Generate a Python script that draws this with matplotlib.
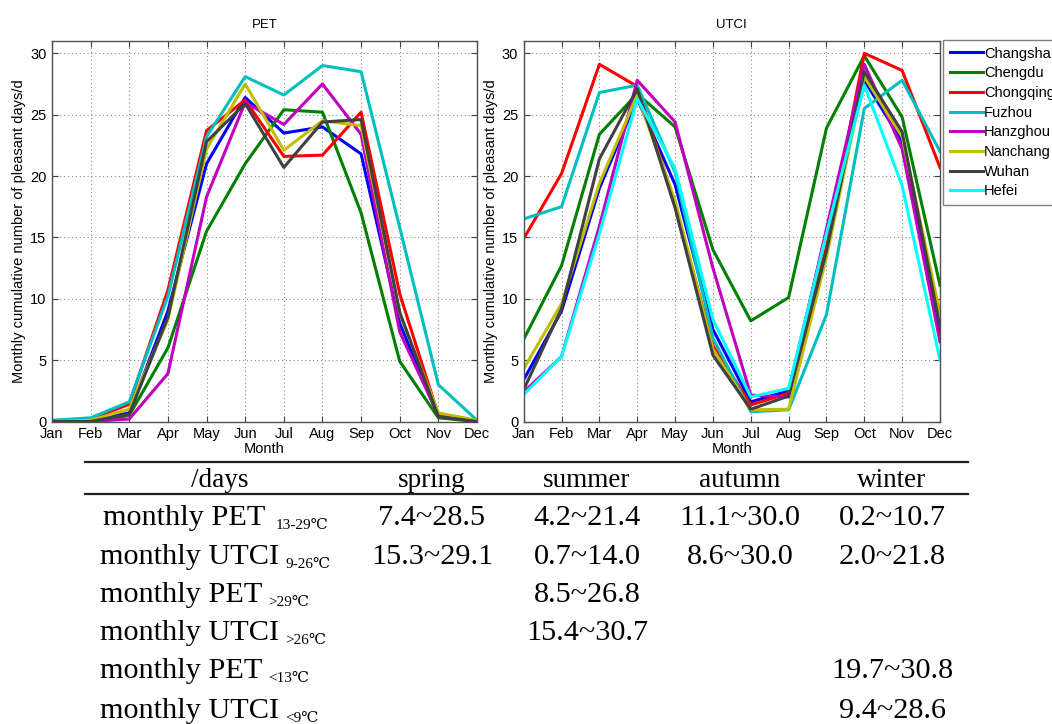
import matplotlib
matplotlib.use("Agg")
import matplotlib.pyplot as plt
from matplotlib.lines import Line2D

months = ['Jan', 'Feb', 'Mar', 'Apr', 'May', 'Jun',
          'Jul', 'Aug', 'Sep', 'Oct', 'Nov', 'Dec']
cities = ['Changsha', 'Chengdu', 'Chongqing', 'Fuzhou',
          'Hanzghou', 'Nanchang', 'Wuhan', 'Hefei']
city_colors = ['#0000FF', '#008000', '#FF0000', '#00BFBF',
               '#BF00BF', '#BFBF00', '#404040', '#00FFFF']

# Monthly cumulative pleasant days, PET 13-29 C range
pet_changsha = [0.0, 0.1, 0.7, 9.0, 21.0, 26.4, 23.5, 24.0, 21.8, 8.0, 0.4, 0.0]
pet_chengdu = [0.0, 0.0, 0.5, 6.0, 15.5, 21.0, 25.4, 25.2, 17.0, 4.9, 0.3, 0.0]
pet_chongqing = [0.0, 0.2, 1.4, 10.7, 23.7, 26.2, 21.6, 21.7, 25.2, 10.4, 0.5, 0.0]
pet_fuzhou = [0.1, 0.3, 1.6, 10.2, 23.2, 28.1, 26.6, 29.0, 28.5, 15.8, 3.0, 0.1]
pet_hanzghou = [0.0, 0.0, 0.2, 3.9, 18.3, 26.0, 24.2, 27.5, 23.4, 7.3, 0.5, 0.0]
pet_nanchang = [0.0, 0.1, 1.0, 8.3, 22.2, 27.5, 22.1, 24.5, 24.1, 8.8, 0.7, 0.1]
pet_wuhan = [0.0, 0.0, 0.6, 8.5, 22.8, 25.9, 20.7, 24.4, 24.6, 8.9, 0.4, 0.0]

# Monthly cumulative pleasant days, UTCI 9-26 C range
utci_changsha = [3.4, 9.0, 19.0, 26.3, 19.3, 7.5, 1.6, 2.5, 15.5, 27.8, 22.8, 7.2]
utci_chengdu = [6.7, 12.7, 23.4, 26.7, 24.0, 14.0, 8.2, 10.1, 23.9, 29.8, 24.8, 11.1]
utci_chongqing = [14.9, 20.2, 29.1, 27.3, 17.7, 6.2, 1.35, 2.3, 14.2, 30.0, 28.6, 20.7]
utci_fuzhou = [16.5, 17.5, 26.8, 27.4, 20.3, 6.8, 0.8, 0.95, 8.7, 25.5, 27.8, 22.0]
utci_hanzghou = [2.4, 5.3, 15.9, 27.8, 24.4, 12.5, 2.15, 2.0, 15.7, 29.1, 22.2, 6.5]
utci_nanchang = [4.3, 9.6, 19.4, 26.6, 18.0, 5.9, 0.95, 1.0, 13.4, 28.1, 23.2, 8.8]
utci_wuhan = [2.6, 9.2, 21.4, 27.1, 17.4, 5.4, 1.0, 2.07, 13.9, 28.5, 23.6, 7.7]
utci_hefei = [2.2, 5.3, 15.3, 26.3, 20.6, 8.3, 2.0, 2.7, 15.3, 27.4, 19.2, 5.0]

pet_series = [pet_changsha, pet_chengdu, pet_chongqing, pet_fuzhou,
              pet_hanzghou, pet_nanchang, pet_wuhan]
utci_series = [utci_changsha, utci_chengdu, utci_chongqing, utci_fuzhou,
               utci_hanzghou, utci_nanchang, utci_wuhan, utci_hefei]

# Summary table of seasonal ranges (days)
season_headers = ['spring', 'summer', 'autumn', 'winter']
row_names = ['monthly PET', 'monthly UTCI', 'monthly PET',
             'monthly UTCI', 'monthly PET', 'monthly UTCI']
row_subs = ['13-29\u2103', '9-26\u2103', '>29\u2103',
            '>26\u2103', '<13\u2103', '<9\u2103']
row_cells = [
    ['7.4~28.5', '4.2~21.4', '11.1~30.0', '0.2~10.7'],
    ['15.3~29.1', '0.7~14.0', '8.6~30.0', '2.0~21.8'],
    ['', '8.5~26.8', '', ''],
    ['', '15.4~30.7', '', ''],
    ['', '', '', '19.7~30.8'],
    ['', '', '', '9.4~28.6'],
]

W, H = 1052, 724
fig = plt.figure(figsize=(W / 100, H / 100), dpi=100)
fig.patch.set_facecolor('white')

sans = ['Liberation Sans', 'DejaVu Sans']
serif = ['Liberation Serif', 'DejaVu Serif', 'Noto Sans CJK SC']


def fig_rect(left, top, right, bottom):
    return [left / W, 1 - bottom / H, (right - left) / W, (bottom - top) / H]


def style_axes(ax, title):
    ax.set_xlim(1, 12)
    ax.set_ylim(0, 31)
    ax.set_xticks(list(range(1, 13)))
    ax.set_xticklabels(months, fontsize=10.5, family=sans)
    ax.set_yticks([0, 5, 10, 15, 20, 25, 30])
    ax.set_yticklabels(['0', '5', '10', '15', '20', '25', '30'],
                       fontsize=10.5, family=sans)
    ax.tick_params(direction='in', length=4, width=0.8, top=True, right=True,
                   color='#404040')
    ax.tick_params(axis='x', pad=4)
    ax.tick_params(axis='y', pad=4)
    ax.grid(True, linestyle=(0, (1, 2.5)), color='#8a8a8a', linewidth=0.8)
    ax.set_axisbelow(True)
    for s in ax.spines.values():
        s.set_color('#505050')
        s.set_linewidth(1.0)
    ax.set_xlabel('Month', fontsize=10.5, family=sans, labelpad=1)
    ax.set_ylabel('Monthly cumulative number of pleasant days/d',
                  fontsize=10.5, family=sans, labelpad=3)
    ax.set_title(title, fontsize=9.5, family=sans, pad=9)


x = list(range(1, 13))

ax1 = fig.add_axes(fig_rect(52, 41, 477, 421.5))
for vals, name, col in zip(pet_series, cities, city_colors):
    ax1.plot(x, vals, color=col, linewidth=2.2, label=name)
style_axes(ax1, 'PET')

ax2 = fig.add_axes(fig_rect(523.7, 41, 940, 421.5))
for vals, name, col in zip(utci_series, cities, city_colors):
    ax2.plot(x, vals, color=col, linewidth=2.2, label=name)
style_axes(ax2, 'UTCI')

handles = [Line2D([], [], color=c, linewidth=2.2) for c in city_colors]
leg = fig.legend(handles, cities, loc='upper left',
                 bbox_to_anchor=(943 / W, 1 - 40 / H),
                 prop={'family': sans, 'size': 10.5},
                 handlelength=2.3, handletextpad=0.05, labelspacing=0.39,
                 borderpad=0.45, borderaxespad=0, fancybox=False,
                 framealpha=1, edgecolor='#808080')
leg.get_frame().set_linewidth(1.0)

# Table rules
for yy in (462, 494):
    fig.add_artist(Line2D([85 / W, 968 / W], [1 - yy / H, 1 - yy / H],
                          color='#222222', linewidth=1.6))

# Header row
header_base = 487
fig.text(220 / W, 1 - header_base / H, '/days', ha='center', va='baseline',
         fontsize=19.5, family=serif)
col_centers = [432, 587, 740, 892]
for cx, hdr in zip(col_centers, season_headers):
    fig.text(cx / W, 1 - header_base / H, hdr, ha='center', va='baseline',
             fontsize=19.5, family=serif)

# Body rows
row_base = [525, 563.5, 602, 640, 678.5, 717.5]
row_start = [103, 100, 100, 100, 100, 100]
sub_gap = [10, 6, 6, 6, 6, 6]
fig.canvas.draw()
renderer = fig.canvas.get_renderer()
for i, (name, sub, cells) in enumerate(zip(row_names, row_subs, row_cells)):
    yb = 1 - row_base[i] / H
    t = fig.text(row_start[i] / W, yb, name, ha='left', va='baseline',
                 fontsize=21.8, family=serif)
    ext = t.get_window_extent(renderer=renderer)
    fig.text((ext.x1 + sub_gap[i]) / W, yb - 4 / H, sub, ha='left',
             va='baseline', fontsize=11, family=serif)
    for cx, val in zip(col_centers, cells):
        if val:
            fig.text(cx / W, yb, val, ha='center', va='baseline',
                     fontsize=21.8, family=serif)

fig.savefig('out.png', dpi=100)
